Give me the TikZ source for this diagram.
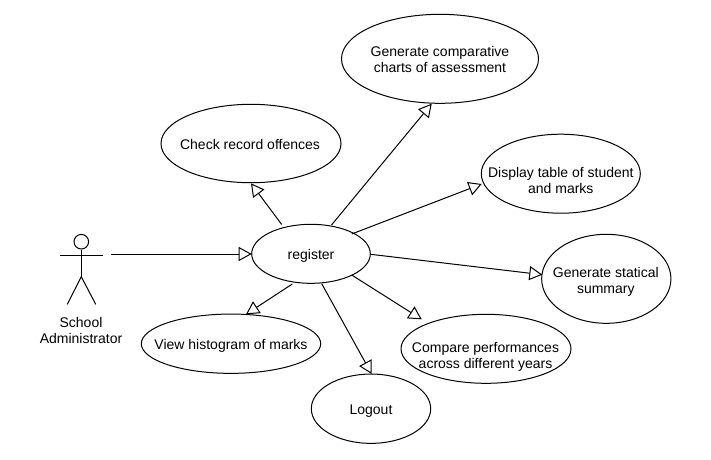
\documentclass[tikz,border=0pt]{standalone}
\usepackage{fontspec}
\setmainfont{Liberation Sans}
\usetikzlibrary{shapes.geometric,arrows.meta}
\tikzset{
  usecase/.style={draw=black,ellipse,line width=1pt,inner sep=0pt},
  uctext/.style={align=center,inner sep=0pt,font=\fontsize{14}{16}\selectfont},
  assoc/.style={draw=black,line width=1pt,-{Triangle[open,length=13pt,width=14pt,line width=1pt]}},
  limb/.style={draw=black,line width=1pt},
}
\begin{document}
\begin{tikzpicture}[x=1pt,y=-1pt]
\useasboundingbox (0,0) rectangle (711,459);
\newcommand{\ucase}[8]{\node[usecase,minimum width=#3pt,minimum height=#4pt,label={[uctext,xshift=#7pt,yshift=#8pt]center:{#6}}] (#5) at (#1,#2) {};}
\ucase{440}{58.8}{197}{89}{compare}{Generate comparative\\charts of assessment}{0}{-0.5}
\ucase{251}{143.5}{180}{78.4}{check}{Check record offences}{-1}{-0.5}
\ucase{560.8}{173.7}{159}{79}{display}{Display table of student\\and marks}{0}{-6.6}
\ucase{606.3}{278.8}{129.3}{89}{stat}{Generate statical\\summary}{-0.5}{-2.6}
\ucase{311}{253.8}{118.6}{59}{reg}{register}{0}{-2.5}
\ucase{231}{343.7}{179.4}{59.3}{hist}{View histogram of marks}{0}{-2.6}
\ucase{486}{348.8}{170}{69}{perf}{Compare performances\\across different years}{-0.5}{-8.2}
\ucase{371}{408.7}{119.4}{69.3}{logout}{Logout}{0}{-2.3}
% actor
\node[draw=black,circle,line width=1pt,minimum size=14.6pt,inner sep=0pt] (head) at (81.3,241.7) {};
\coordinate (hip) at (81.3,276.7);
\coordinate (armL) at (60,255);
\coordinate (armR) at (102.7,255);
\coordinate (legL) at (67.3,304.3);
\coordinate (legR) at (95.7,304.3);
\draw[limb] (head.south) -- (hip);
\draw[limb] (armL) -- (armR);
\draw[limb] (legL) -- (hip) -- (legR);
\node[uctext] (actorlabel) at (81,330) {School\\Administrator};
% connector ends
\coordinate (actorout) at (111,254);
\coordinate (regin) at (251.7,254);
\coordinate (a1) at (281.7,224.5);
\coordinate (a2) at (331.5,225);
\coordinate (a3) at (351.7,234);
\coordinate (a4) at (370.7,254.3);
\coordinate (a5) at (351.7,275);
\coordinate (a6) at (292.3,284);
\coordinate (a7) at (321.7,283.7);
\coordinate (b1) at (251,183.3);
\coordinate (b2) at (431.7,103.7);
\coordinate (b3) at (481.7,184);
\coordinate (b4) at (542.3,274.7);
\coordinate (b5) at (421.7,319.3);
\coordinate (b6) at (246,314.3);
\coordinate (b7) at (371.7,374);
\draw[assoc] (actorout) -- (regin);
\draw[assoc] (a1) -- (b1);
\draw[assoc] (a2) -- (b2);
\draw[assoc] (a3) -- (b3);
\draw[assoc] (a4) -- (b4);
\draw[assoc] (a5) -- (b5);
\draw[assoc] (a6) -- (b6);
\draw[assoc] (a7) -- (b7);
\end{tikzpicture}
\end{document}
